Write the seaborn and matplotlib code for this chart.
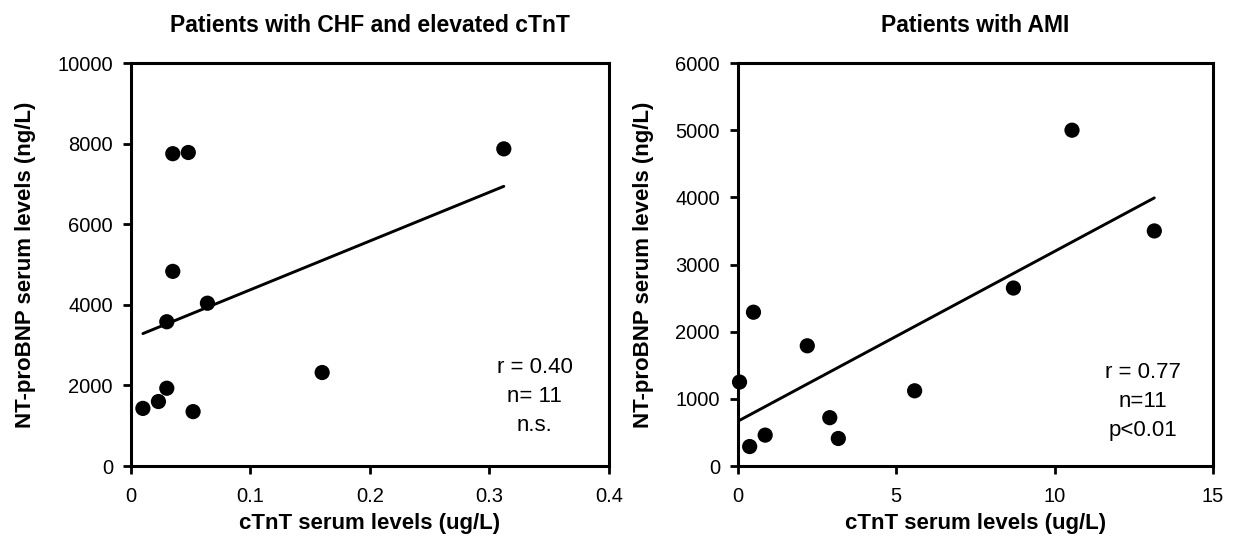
import numpy as np
import pandas as pd
import matplotlib.pyplot as plt
import seaborn as sns

# -------------------------------
# Data
# -------------------------------
chf_ctnt = [0.010, 0.023, 0.030, 0.030, 0.035, 0.035, 0.048, 0.052, 0.064, 0.160, 0.312]
chf_ntprobnp = [1430, 1600, 1930, 3580, 4830, 7750, 7780, 1350, 4040, 2320, 7870]

ami_ctnt = [0.05, 0.37, 0.49, 0.86, 2.19, 2.9, 3.17, 5.58, 8.7, 10.55, 13.15]
ami_ntprobnp = [1250, 290, 2290, 460, 1790, 720, 410, 1120, 2650, 5000, 3500]

titles = ["Patients with CHF and elevated cTnT", "Patients with AMI"]
stats_text = ["r = 0.40\nn= 11\nn.s.", "r = 0.77\nn=11\np<0.01"]
stats_pos = [(0.845, 0.172), (0.852, 0.160)]
xlims = [(0, 0.4), (0, 15)]
ylims = [(0, 10000), (0, 6000)]
xticks = [[0, 0.1, 0.2, 0.3, 0.4], [0, 5, 10, 15]]
xticklabels = [["0", "0.1", "0.2", "0.3", "0.4"], ["0", "5", "10", "15"]]
yticks = [[0, 2000, 4000, 6000, 8000, 10000], [0, 1000, 2000, 3000, 4000, 5000, 6000]]

df_chf = pd.DataFrame({"ctnt": chf_ctnt, "nt": chf_ntprobnp})
df_ami = pd.DataFrame({"ctnt": ami_ctnt, "nt": ami_ntprobnp})

# -------------------------------
# Style
# -------------------------------
sns.set_style("ticks")
plt.rcParams['font.family'] = ['Liberation Sans', 'DejaVu Sans']
plt.rcParams['text.color'] = 'black'
plt.rcParams['axes.labelcolor'] = 'black'

fig = plt.figure(figsize=(12.33, 5.48), dpi=100)
ax1 = fig.add_axes([0.1062, 0.1496, 0.3877, 0.7354])
ax2 = fig.add_axes([0.5985, 0.1496, 0.3852, 0.7354])

for ax, df, i in [(ax1, df_chf, 0), (ax2, df_ami, 1)]:
    sns.regplot(data=df, x="ctnt", y="nt", ax=ax, ci=None, truncate=True,
                scatter_kws=dict(s=120, color="black", edgecolor="none", alpha=1, zorder=3,
                                 clip_on=False),
                line_kws=dict(color="black", lw=2.1))
    ax.set_xlim(*xlims[i])
    ax.set_ylim(*ylims[i])
    ax.set_xticks(xticks[i])
    ax.set_xticklabels(xticklabels[i])
    ax.set_yticks(yticks[i])
    ax.tick_params(axis="both", direction="out", length=6, width=2, labelsize=14.5,
                   colors="black", pad=7)
    ax.tick_params(axis="x", pad=9)
    for sp in ax.spines.values():
        sp.set_linewidth(2.2)
        sp.set_color("black")
    ax.set_title(titles[i], fontsize=16.5, fontweight="bold", pad=22, color="black")
    ax.set_xlabel("cTnT serum levels (ug/L)", fontsize=16, fontweight="bold", labelpad=5)
    ax.set_ylabel("NT-proBNP serum levels (ng/L)", fontsize=16, fontweight="bold", labelpad=15)
    ax.text(stats_pos[i][0], stats_pos[i][1], stats_text[i], transform=ax.transAxes,
            ha="center", va="center", fontsize=16, linespacing=1.5, color="black")

fig.savefig("out.png", dpi=100)
